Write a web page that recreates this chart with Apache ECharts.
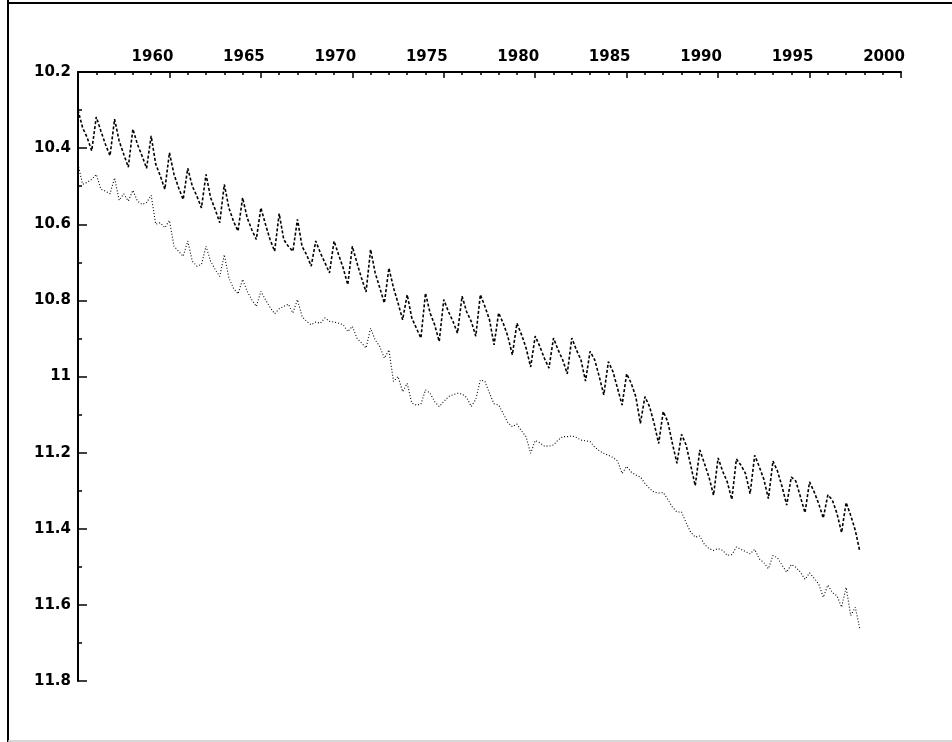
<!DOCTYPE html>
<html>
<head>
<meta charset="utf-8">
<script src="https://cdn.jsdelivr.net/npm/echarts@6/dist/echarts.min.js"></script>
<style>
html,body{margin:0;padding:0;background:#fff;}
#chart{width:952px;height:742px;}
</style>
</head>
<body>
<div id="chart"></div>
<script>
// Quarterly series, first observation 1955 Q1
const startYear = 1955;
const perYear = 4;
const xTicks = [1955, 1960, 1965, 1970, 1975, 1980, 1985, 1990, 1995, 2000];
const yTicks = [10.2, 10.4, 10.6, 10.8, 11, 11.2, 11.4, 11.6, 11.8];

const upperSeries = [
  10.30, 10.346, 10.372, 10.407,
  10.318, 10.355, 10.39, 10.42,
  10.324, 10.381, 10.416, 10.45,
  10.35, 10.39, 10.42, 10.453,
  10.368, 10.442, 10.473, 10.508,
  10.412, 10.469, 10.504, 10.535,
  10.453, 10.50, 10.526, 10.557,
  10.469, 10.53, 10.561, 10.596,
  10.495, 10.557, 10.592, 10.618,
  10.53, 10.583, 10.614, 10.64,
  10.557, 10.60, 10.64, 10.671,
  10.572, 10.64, 10.658, 10.671,
  10.587, 10.658, 10.68, 10.71,
  10.644, 10.675, 10.701, 10.728,
  10.644, 10.68, 10.715, 10.759,
  10.658, 10.701, 10.741, 10.778,
  10.666, 10.728, 10.767, 10.807,
  10.715, 10.767, 10.807, 10.851,
  10.785, 10.846, 10.873, 10.899,
  10.781, 10.833, 10.864, 10.908,
  10.798, 10.829, 10.855, 10.886,
  10.789, 10.83, 10.855, 10.894,
  10.785, 10.816, 10.851, 10.917,
  10.833, 10.86, 10.894, 10.943,
  10.86, 10.89, 10.925, 10.975,
  10.894, 10.921, 10.952, 10.978,
  10.899, 10.93, 10.956, 10.993,
  10.899, 10.93, 10.956, 11.012,
  10.934, 10.956, 11.0, 11.048,
  10.961, 10.987, 11.031, 11.075,
  10.993, 11.018, 11.053, 11.123,
  11.053, 11.079, 11.123, 11.176,
  11.092, 11.119, 11.176, 11.228,
  11.152, 11.18, 11.233, 11.287,
  11.193, 11.228, 11.264, 11.312,
  11.214, 11.249, 11.277, 11.323,
  11.217, 11.233, 11.255, 11.308,
  11.207, 11.237, 11.27, 11.321,
  11.222, 11.249, 11.29, 11.338,
  11.264, 11.275, 11.316, 11.358,
  11.277, 11.303, 11.334, 11.372,
  11.311, 11.325, 11.36, 11.41,
  11.331, 11.365, 11.404, 11.46
];

const lowerSeries = [
  10.442, 10.495, 10.49, 10.482,
  10.469, 10.508, 10.513, 10.52,
  10.478, 10.537, 10.52, 10.539,
  10.511, 10.539, 10.548, 10.543,
  10.524, 10.60, 10.596, 10.609,
  10.59, 10.658, 10.671, 10.684,
  10.644, 10.697, 10.71, 10.706,
  10.658, 10.697, 10.719, 10.737,
  10.68, 10.741, 10.768, 10.783,
  10.745, 10.776, 10.798, 10.816,
  10.776, 10.798, 10.818, 10.835,
  10.822, 10.816, 10.81, 10.833,
  10.798, 10.842, 10.855, 10.864,
  10.857, 10.86, 10.846, 10.855,
  10.857, 10.86, 10.864, 10.882,
  10.868, 10.899, 10.912, 10.925,
  10.873, 10.904, 10.921, 10.952,
  10.93, 11.013, 11.0, 11.04,
  11.018, 11.07, 11.075, 11.073,
  11.035, 11.044, 11.066, 11.079,
  11.066, 11.053, 11.048, 11.044,
  11.046, 11.055, 11.079, 11.06,
  11.009, 11.013, 11.044, 11.072,
  11.075, 11.097, 11.121, 11.132,
  11.125, 11.143, 11.158, 11.202,
  11.168, 11.174, 11.183, 11.183,
  11.18, 11.167, 11.158, 11.158,
  11.156, 11.16, 11.167, 11.169,
  11.171, 11.185, 11.195, 11.202,
  11.207, 11.213, 11.222, 11.255,
  11.236, 11.251, 11.259, 11.264,
  11.281, 11.294, 11.304, 11.306,
  11.305, 11.323, 11.343, 11.356,
  11.356, 11.384, 11.409, 11.422,
  11.419, 11.441, 11.452, 11.457,
  11.452, 11.457, 11.47, 11.468,
  11.448, 11.454, 11.46, 11.466,
  11.454, 11.479, 11.489, 11.505,
  11.47, 11.477, 11.496, 11.514,
  11.494, 11.501, 11.514, 11.533,
  11.516, 11.53, 11.545, 11.58,
  11.548, 11.568, 11.576, 11.606,
  11.554, 11.628, 11.606, 11.664
];

function toPairs(arr) {
  return arr.map((v, i) => [startYear + i / perYear, v]);
}

const chart = echarts.init(document.getElementById('chart'), null, {renderer: 'canvas'});
const labelFont = {
  fontFamily: 'DejaVu Sans',
  fontWeight: 'bold',
  fontSize: 15,
  color: '#000'
};

chart.setOption({
  animation: false,
  backgroundColor: '#fff',
  grid: {left: 78, top: 72, right: 51, bottom: 61, containLabel: false},
  xAxis: {
    type: 'value',
    position: 'top',
    min: xTicks[0],
    max: xTicks[xTicks.length - 1],
    interval: 5,
    splitLine: {show: false},
    axisLine: {show: true, onZero: false, lineStyle: {color: '#000', width: 2}},
    axisTick: {show: true, inside: true, length: 6, lineStyle: {color: '#000', width: 1.5}},
    minorTick: {show: true, splitNumber: 5, length: 3, lineStyle: {color: '#000', width: 1.5}},
    axisLabel: Object.assign({
      margin: 7,
      padding: [0, 34, 0, 0],
      formatter: v => (v === xTicks[0] ? '' : String(Math.round(v)))
    }, labelFont)
  },
  yAxis: {
    type: 'value',
    inverse: true,
    min: yTicks[0],
    max: yTicks[yTicks.length - 1],
    interval: 0.2,
    splitLine: {show: false},
    axisLine: {show: true, onZero: false, lineStyle: {color: '#000', width: 2}},
    axisTick: {show: true, inside: true, length: 9, lineStyle: {color: '#000', width: 1.5}},
    minorTick: {show: true, splitNumber: 2, length: 4, lineStyle: {color: '#000', width: 1.5}},
    axisLabel: Object.assign({
      margin: 7,
      formatter: v => {
        const r = Math.round(v * 10) / 10;
        return String(r);
      }
    }, labelFont)
  },
  series: [
    {
      type: 'line',
      data: toPairs(upperSeries),
      showSymbol: false,
      lineStyle: {color: '#000', width: 1.6, type: [3, 2]},
      z: 3
    },
    {
      type: 'line',
      data: toPairs(lowerSeries),
      showSymbol: false,
      lineStyle: {color: '#000', width: 1.1, type: [1, 2]},
      z: 3
    }
  ],
  graphic: [
    {type: 'line', shape: {x1: 8, y1: 0, x2: 8, y2: 742}, style: {stroke: '#000', lineWidth: 2}},
    {type: 'line', shape: {x1: 8, y1: 3, x2: 952, y2: 3}, style: {stroke: '#000', lineWidth: 2}},
    {type: 'line', shape: {x1: 8, y1: 741, x2: 952, y2: 741}, style: {stroke: '#c8c8c8', lineWidth: 1.5}}
  ]
});
</script>
</body>
</html>
